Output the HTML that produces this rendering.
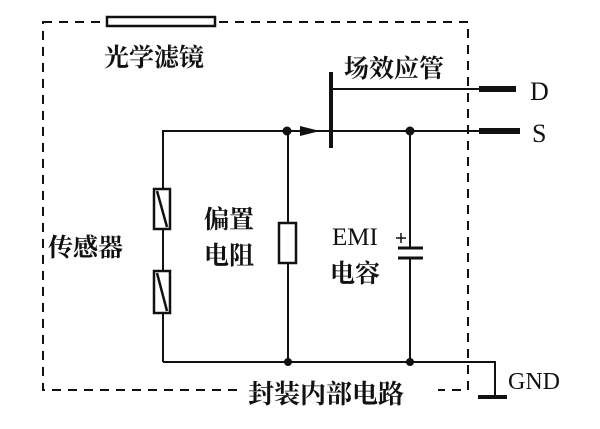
<!DOCTYPE html>
<html><head><meta charset="utf-8"><style>
html,body{margin:0;padding:0;background:#fff;}
svg{display:block;}
text{font-family:"Liberation Serif","Noto Serif CJK SC",serif;fill:#111;}
.cn{font-family:"Liberation Serif","Noto Serif CJK SC",serif;font-weight:bold;}
</style></head><body>
<svg width="600" height="429" viewBox="0 0 600 429" xmlns="http://www.w3.org/2000/svg">
<g stroke="#111" fill="none">
<path d="M43,22 H468 V390 H43 Z" stroke-width="2" stroke-dasharray="9,7"/>
<rect x="107" y="17" width="108" height="9" stroke-width="2.5" fill="#fff"/>
<path d="M163,362 V131 H480" stroke-width="2"/>
<path d="M332,89 H480" stroke-width="2"/>
<path d="M331,72 V148" stroke-width="4"/>
<path d="M288,131 V362" stroke-width="2"/>
<rect x="279" y="223" width="17" height="40" stroke-width="2.5" fill="#fff"/>
<path d="M410,131 V248 M410,258 V362" stroke-width="2"/>
<path d="M398,248 H423 M398,258 H423" stroke-width="3"/>
<path d="M396,238 H406 M401,233 V243" stroke-width="1.5"/>
<rect x="154" y="189" width="16" height="40" stroke-width="2.5" fill="#fff"/>
<path d="M157,191 L167,227" stroke-width="2.5"/>
<rect x="154" y="271" width="16" height="42" stroke-width="2.5" fill="#fff"/>
<path d="M157,273 L167,311" stroke-width="2.5"/>
<path d="M163,362 H495 V397" stroke-width="2"/>
<path d="M478,397 H507" stroke-width="4"/>
<path d="M479,89 H516 M479,131 H520" stroke-width="6"/>
</g>
<rect x="243" y="380" width="195" height="20" fill="#fff"/>
<circle cx="287" cy="131" r="4.5" fill="#111"/>
<circle cx="410" cy="131" r="4.5" fill="#111"/>
<circle cx="288" cy="362" r="4" fill="#111"/>
<circle cx="410" cy="362" r="4" fill="#111"/>
<polygon points="300,126 320,131 300,136" fill="#111"/>
<text class="cn" x="104" y="66" font-size="25">光学滤镜</text>
<text class="cn" x="344" y="77" font-size="25">场效应管</text>
<text class="cn" x="48" y="256" font-size="25">传感器</text>
<text class="cn" x="204" y="228" font-size="25">偏置</text>
<text class="cn" x="204" y="264" font-size="25">电阻</text>
<text x="332" y="245" font-size="25">EMI</text>
<text class="cn" x="330" y="282" font-size="25">电容</text>
<text class="cn" x="248" y="403" font-size="26">封装内部电路</text>
<text x="530" y="100" font-size="26">D</text>
<text x="532" y="142" font-size="26">S</text>
<text x="508" y="389" font-size="24">GND</text>
</svg>
</body></html>
